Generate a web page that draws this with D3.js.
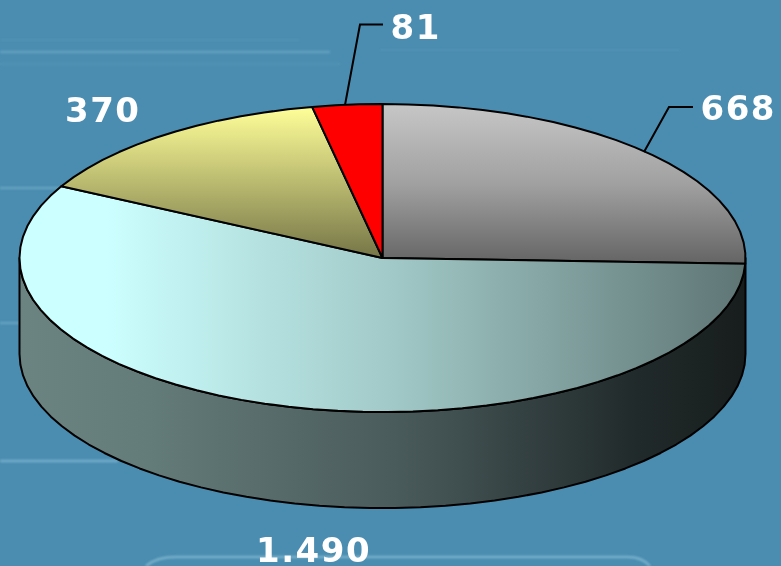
<!DOCTYPE html>
<html><head><meta charset="utf-8">
<script src="https://cdn.jsdelivr.net/npm/d3@7"></script>
<style>html,body{margin:0;padding:0;background:#4a8db0;overflow:hidden}svg{display:block}
text{font-family:"DejaVu Sans",sans-serif;font-weight:bold;fill:#fff;font-size:34px;letter-spacing:1.5px}</style>
</head><body><svg id="c" width="781" height="566"></svg>
<script>
const categories = ["A","B","C","D"];
const values = [668, 1490, 370, 81];
const labels = ["668","1.490","370","81"];

const W=781,H=566,cx=382.5,cy=258,rx=363,ry=154,depth=96;
const svg=d3.select("#c");
const defs=svg.append("defs");
function grad(id,attrs,stops){
  const g=defs.append("linearGradient").attr("id",id).attr("gradientUnits","userSpaceOnUse");
  Object.entries(attrs).forEach(([k,v])=>g.attr(k,v));
  stops.forEach(s=>g.append("stop").attr("offset",s[0]).attr("stop-color",s[1]));
}
grad("g0",{x1:0,x2:0,y1:105,y2:264},[[0,"#c6c6c6"],[0.5,"#a0a0a0"],[1,"#646464"]]);
grad("g1",{x1:19,x2:746,y1:0,y2:0},[[0,"#ccffff"],[0.12,"#ccffff"],[0.52,"#a0c8c6"],[1,"#5e7574"]]);
grad("g2",{x1:0,x2:0,y1:107,y2:258},[[0,"#ffff99"],[1,"#757547"]]);
grad("wall",{x1:19,x2:746,y1:0,y2:0},[[0,"#6b8481"],[0.18,"#637b79"],[0.52,"#4a5b5b"],[0.85,"#212a2b"],[1,"#171d1c"]]);
const fills=["url(#g0)","url(#g1)","url(#g2)","#ff0000"];
defs.append("filter").attr("id","soft").attr("x","-5%").attr("y","-300%").attr("width","110%").attr("height","700%")
  .append("feGaussianBlur").attr("stdDeviation","1.1");

// background streaks
const streaks=[
 "M0,52H330","M0,40H300","M0,64H340","M380,50H680","M0,188H62","M0,323H20","M0,461H118",
 "M146,566Q156,557 176,557H628Q642,557 650,566"];
const streakOp=[.28,.07,.08,.06,.3,.3,.45,.5];
svg.append("g").attr("filter","url(#soft)").selectAll("path").data(streaks).join("path")
  .attr("d",d=>d).attr("fill","none").attr("stroke","#a8d4e8").attr("stroke-width",2.5)
  .attr("opacity",(d,i)=>streakOp[i]);

const x=d3.scaleLinear().domain([-1,1]).range([cx-rx,cx+rx]);
const y=d3.scaleLinear().domain([-1,1]).range([cy+ry,cy-ry]);
const line=d3.line().x(d=>x(d[0])).y(d=>y(d[1]));
const lineLow=d3.line().x(d=>x(d[0])).y(d=>y(d[1])+depth);
const rim=(a0,a1)=>{
  const n=Math.max(2,Math.ceil((a1-a0)/0.07));
  return d3.range(0,n+1).map(i=>{const a=a0+(a1-a0)*i/n;return [Math.sin(a),Math.cos(a)];});
};

const arcs=d3.pie().sort(null)(values);

// side wall: visible front half of the rim
const front=rim(Math.PI/2,Math.PI*1.5);
svg.append("path")
  .attr("d",line(front)+"L"+lineLow(front.slice().reverse()).slice(1)+"Z")
  .attr("fill","url(#wall)").attr("stroke","#000").attr("stroke-width",2).attr("stroke-linejoin","round");

// top slices
svg.append("g").selectAll("path").data(arcs).join("path")
  .attr("d",d=>line([[0,0],...rim(d.startAngle,d.endAngle)])+"Z")
  .attr("fill",(d,i)=>fills[i])
  .attr("stroke","#000").attr("stroke-width",2).attr("stroke-linejoin","round");

// leaders
const leaders=[[[644,152],[669,107],[693,107]],[[345,105],[360,24.5],[383,24.5]]];
svg.append("g").selectAll("path").data(leaders).join("path")
  .attr("d",d3.line()).attr("fill","none").attr("stroke","#000").attr("stroke-width",2);

// labels
const pos=[[700.5,119.5],[256,561.5],[65,122],[390.5,39]];
svg.append("g").selectAll("text").data(labels).join("text")
  .attr("x",(d,i)=>pos[i][0]).attr("y",(d,i)=>pos[i][1]).text(d=>d);
</script></body></html>
